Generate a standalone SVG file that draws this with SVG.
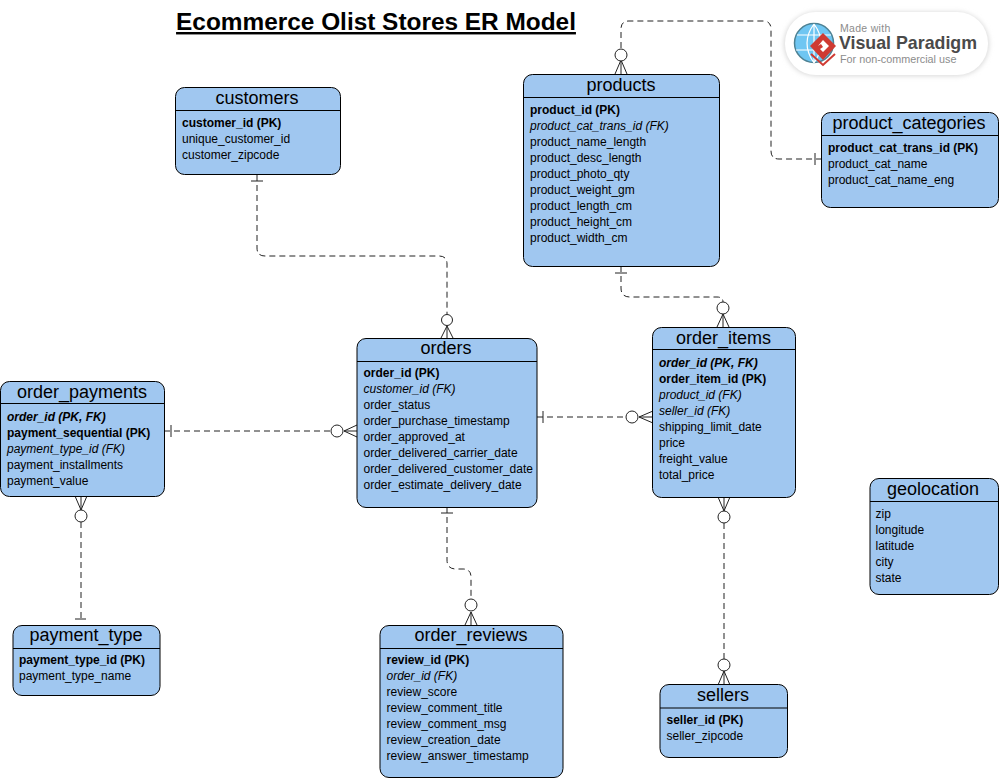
<svg xmlns="http://www.w3.org/2000/svg" width="999" height="778" viewBox="0 0 999 778">
<style>
text{font-family:"Liberation Sans",Arial,sans-serif;fill:#000}
.box{fill:#a0c7f0;stroke:#000;stroke-width:1}
.hl{stroke:#000;stroke-width:1}
.h{font-size:18px;text-anchor:middle}
.f{font-size:12px}
.b{font-weight:bold}
.i{font-style:italic}
.c{fill:none;stroke:#222;stroke-width:1;stroke-dasharray:6 4}
.m{fill:none;stroke:#222;stroke-width:1}
.o{fill:#fff;stroke:#222;stroke-width:1}
</style>
<defs><filter id="soft" x="-10%" y="-30%" width="120%" height="160%"><feGaussianBlur stdDeviation="2.500"/></filter></defs>
<text x="376" y="30" font-size="24.400" font-weight="bold" text-anchor="middle" text-decoration="underline">Ecommerce Olist Stores ER Model</text>
<g id="connectors">
<path class="c" d="M257 175V248Q257 256 265 256H439Q447 256 447 264V314"/>
<path class="m" d="M251 181H263M441 338L447 326L453 338M447 326V338"/><circle class="o" cx="447" cy="320" r="5.500"/>
<path class="c" d="M621 48V29Q621 21 629 21H763Q771 21 771 29V151Q771 159 779 159H821"/>
<path class="m" d="M615 74L621 60L627 74M621 60V74M815 153V165"/><circle class="o" cx="621" cy="55" r="6"/>
<path class="c" d="M621 266V288Q621 297 630 297H717Q723 297 723 302"/>
<path class="m" d="M615 273H627M717 327L723 314L729 327M723 314V327"/><circle class="o" cx="723" cy="308" r="6"/>
<path class="c" d="M537 417H626"/>
<path class="m" d="M543 411V423M653 411L639 417L653 423M639 417H653"/><circle class="o" cx="632" cy="417" r="6"/>
<path class="c" d="M164 431H331"/>
<path class="m" d="M171 425V437M357 425L344 431L357 437M344 431H357"/><circle class="o" cx="337" cy="431" r="6"/>
<path class="c" d="M81 522V618"/>
<path class="m" d="M75 496L81 510L87 496M81 496V510M75 619H86"/><circle class="o" cx="81" cy="516" r="6"/>
<path class="c" d="M447 507V560Q447 569 456 569H463Q471 569 471 577V599"/>
<path class="m" d="M441 513H453M465 625L471 612L477 625M471 612V625"/><circle class="o" cx="471" cy="605" r="6"/>
<path class="c" d="M724 523V659"/>
<path class="m" d="M718 497L724 511L730 497M724 497V511M718 685L724 671L730 685M724 671V685"/><circle class="o" cx="724" cy="517" r="6"/><circle class="o" cx="724" cy="665" r="6"/>
</g>
<g id="customers">
<rect class="box" x="175.500" y="87.500" width="165" height="87" rx="9"/><path class="hl" d="M175.500 110.500H340.500"/>
<text class="h" x="257" y="104">customers</text>
<text class="f b" x="182" y="127">customer_id (PK)</text>
<text class="f" x="182" y="143">unique_customer_id</text>
<text class="f" x="182" y="159">customer_zipcode</text>
</g>
<g id="products">
<rect class="box" x="523.500" y="74.500" width="196" height="192" rx="9"/><path class="hl" d="M523.500 97.500H719.500"/>
<text class="h" x="621" y="91">products</text>
<text class="f b" x="530" y="114">product_id (PK)</text>
<text class="f i" x="530" y="130">product_cat_trans_id (FK)</text>
<text class="f" x="530" y="146">product_name_length</text>
<text class="f" x="530" y="162">product_desc_length</text>
<text class="f" x="530" y="178">product_photo_qty</text>
<text class="f" x="530" y="194">product_weight_gm</text>
<text class="f" x="530" y="210">product_length_cm</text>
<text class="f" x="530" y="226">product_height_cm</text>
<text class="f" x="530" y="242">product_width_cm</text>
</g>
<g id="product_categories">
<rect class="box" x="821.500" y="112.500" width="177" height="95" rx="9"/><path class="hl" d="M821.500 135.500H998.500"/>
<text class="h" x="909" y="129">product_categories</text>
<text class="f b" x="828" y="152">product_cat_trans_id (PK)</text>
<text class="f" x="828" y="168">product_cat_name</text>
<text class="f" x="828" y="184">product_cat_name_eng</text>
</g>
<g id="orders">
<rect class="box" x="357" y="338.500" width="180" height="169" rx="9"/><path class="hl" d="M357 361.500H537"/>
<text class="h" x="446" y="354">orders</text>
<text class="f b" x="363.500" y="377">order_id (PK)</text>
<text class="f i" x="363.500" y="393">customer_id (FK)</text>
<text class="f" x="363.500" y="409">order_status</text>
<text class="f" x="363.500" y="425">order_purchase_timestamp</text>
<text class="f" x="363.500" y="441">order_approved_at</text>
<text class="f" x="363.500" y="457">order_delivered_carrier_date</text>
<text class="f" x="363.500" y="473">order_delivered_customer_date</text>
<text class="f" x="363.500" y="489">order_estimate_delivery_date</text>
</g>
<g id="order_items">
<rect class="box" x="652.500" y="327.500" width="143" height="170" rx="9"/><path class="hl" d="M652.500 349.500H795.500"/>
<text class="h" x="723.500" y="344">order_items</text>
<text class="f b i" x="659" y="367">order_id (PK, FK)</text>
<text class="f b" x="659" y="383">order_item_id (PK)</text>
<text class="f i" x="659" y="399">product_id (FK)</text>
<text class="f i" x="659" y="415">seller_id (FK)</text>
<text class="f" x="659" y="431">shipping_limit_date</text>
<text class="f" x="659" y="447">price</text>
<text class="f" x="659" y="463">freight_value</text>
<text class="f" x="659" y="479">total_price</text>
</g>
<g id="order_payments">
<rect class="box" x="0.500" y="381.500" width="164" height="115" rx="9"/><path class="hl" d="M0.500 403.500H164.500"/>
<text class="h" x="82" y="398">order_payments</text>
<text class="f b i" x="7" y="421">order_id (PK, FK)</text>
<text class="f b" x="7" y="437">payment_sequential (PK)</text>
<text class="f i" x="7" y="453">payment_type_id (FK)</text>
<text class="f" x="7" y="469">payment_installments</text>
<text class="f" x="7" y="485">payment_value</text>
</g>
<g id="geolocation">
<rect class="box" x="870" y="478.500" width="128.500" height="116" rx="9"/><path class="hl" d="M870 501.500H998.500"/>
<text class="h" x="933" y="495">geolocation</text>
<text class="f" x="875.500" y="518">zip</text>
<text class="f" x="875.500" y="534">longitude</text>
<text class="f" x="875.500" y="550">latitude</text>
<text class="f" x="875.500" y="566">city</text>
<text class="f" x="875.500" y="582">state</text>
</g>
<g id="payment_type">
<rect class="box" x="13" y="625.500" width="147" height="70" rx="9"/><path class="hl" d="M13 648.500H160"/>
<text class="h" x="86" y="641">payment_type</text>
<text class="f b" x="19" y="664">payment_type_id (PK)</text>
<text class="f" x="19" y="680">payment_type_name</text>
</g>
<g id="order_reviews">
<rect class="box" x="380" y="625.500" width="183" height="152" rx="9"/><path class="hl" d="M380 648.500H563"/>
<text class="h" x="471" y="641">order_reviews</text>
<text class="f b" x="386.500" y="664">review_id (PK)</text>
<text class="f i" x="386.500" y="680">order_id (FK)</text>
<text class="f" x="386.500" y="696">review_score</text>
<text class="f" x="386.500" y="712">review_comment_title</text>
<text class="f" x="386.500" y="728">review_comment_msg</text>
<text class="f" x="386.500" y="744">review_creation_date</text>
<text class="f" x="386.500" y="760">review_answer_timestamp</text>
</g>
<g id="sellers">
<rect class="box" x="660" y="684.500" width="127.500" height="73" rx="9"/><path class="hl" d="M660 708H787.500"/>
<text class="h" x="723" y="701">sellers</text>
<text class="f b" x="666.500" y="724">seller_id (PK)</text>
<text class="f" x="666.500" y="740">seller_zipcode</text>
</g>
<g id="logo">
<rect x="784" y="12" width="205" height="64" rx="32" fill="#d8d8d8" filter="url(#soft)"/>
<rect x="785" y="12" width="203" height="63" rx="31" fill="#fff"/>
<circle cx="814" cy="43" r="19.500" fill="#6fc6f2" stroke="#4d8193" stroke-width="1.500"/>
<path d="M797 35H831M796 50H831M814 24V63M814 24Q800 43 814 63M814 24Q828 43 814 63" fill="none" stroke="#fff" stroke-width="1.200"/>
<path d="M823 33L836 46L823 60L810 46Z" fill="#cf3a32"/>
<path d="M823 40L829 46L823 52L820 49L823 47L821 44L818 46Z" fill="#fff"/>
<path d="M811 54L823 65L835 54" fill="none" stroke="#cf3a32" stroke-width="2"/>
<text x="840" y="32" font-size="10.500" letter-spacing="0.300" style="fill:#8c8c8c">Made with</text>
<text x="839" y="49" font-size="17.800" font-weight="bold" style="fill:#4a4a4a">Visual Paradigm</text>
<text x="840" y="62.500" font-size="10.800" style="fill:#8c8c8c">For non-commercial use</text>
</g>
</svg>
